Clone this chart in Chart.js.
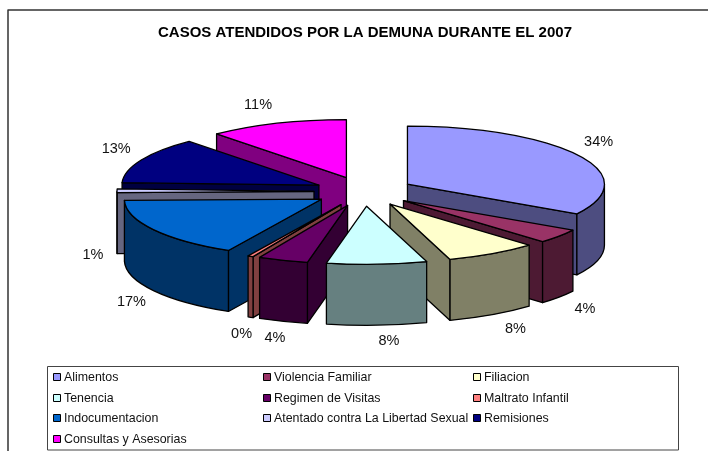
<!DOCTYPE html>
<html>
<head>
<meta charset="utf-8">
<script src="https://cdn.jsdelivr.net/npm/chart.js@4/dist/chart.umd.min.js"></script>
<style>
html,body{margin:0;padding:0;background:#fff;overflow:hidden}
#wrap{width:708px;height:451px;position:relative}
</style>
</head>
<body>
<div id="wrap"><canvas id="c" width="708" height="451"></canvas></div>
<script>
const categories = ["Alimentos","Violencia Familiar","Filiacion","Tenencia","Regimen de Visitas","Maltrato Infantil","Indocumentacion","Atentado contra La Libertad Sexual","Remisiones","Consultas y Asesorias"];
const values = [33.52, 4, 7.55, 8.2, 4.1, 0.45, 16.85, 1, 12.88, 11.45];
const topColors = ["#9999FF","#993366","#FFFFCC","#CCFFFF","#660066","#FF8080","#0066CC","#CCCCFF","#000080","#FF00FF"];
const sideColors = ["#4D4D80","#4D1A33","#808066","#668080","#330033","#804040","#003366","#666680","#000040","#800080"];
const chartTitle = "CASOS ATENDIDOS POR LA DEMUNA DURANTE EL 2007";

// Presentation constants
const RADIUS = 197, SQUASH = 0.295, DEPTH = 61, EXPLODE = 50, EDGE = 1.3, PIE_SHIFT_X = -1;
const paintOrder = [9, 0, 8, 7, 6, 1, 2, 5, 4, 3];
const labelNudge = [[20,-13],[26,12],[23,14],[12,16],[-8,17],[-9,17],[-22,11],[-24,64],[-25,-11],[-19,-18]];
const legendCols = [53, 263, 473], legendRows = [378, 399, 419, 440];
const FONT = '"Liberation Sans", Arial, sans-serif';

function geometry(arc){
  const p = arc.getProps(['x','y','startAngle','endAngle','outerRadius'], true);
  const mid = (p.startAngle + p.endAngle) / 2;
  const ox = p.x + PIE_SHIFT_X;
  const ax = ox + Math.cos(mid) * EXPLODE;
  const ay = p.y + Math.sin(mid) * EXPLODE * SQUASH;
  const pt = t => [ax + Math.cos(t) * p.outerRadius, ay + Math.sin(t) * p.outerRadius * SQUASH];
  return {p, mid, ox, ax, ay, pt};
}

const pie3d = {
  id: 'pie3d',
  beforeDatasetsDraw(chart){
    const ctx = chart.ctx, meta = chart.getDatasetMeta(0);
    const line = (fill) => {
      ctx.fillStyle = fill; ctx.fill();
      ctx.strokeStyle = '#000'; ctx.lineWidth = EDGE; ctx.lineJoin = 'round'; ctx.stroke();
    };
    paintOrder.forEach(i => {
      const arc = meta.data[i]; if (!arc) return;
      const g = geometry(arc), {p, ax, ay, pt} = g, side = sideColors[i];
      const wall = (t) => {
        const [x, y] = pt(t);
        ctx.beginPath(); ctx.moveTo(ax, ay); ctx.lineTo(x, y);
        ctx.lineTo(x, y + DEPTH); ctx.lineTo(ax, ay + DEPTH); ctx.closePath(); line(side);
      };
      // front-facing radial walls only
      if (Math.sin(p.startAngle - Math.PI/2) > 1e-6) wall(p.startAngle);
      if (Math.sin(p.endAngle + Math.PI/2) > 1e-6) wall(p.endAngle);
      // outer rim, only the arc portions on the front half
      for (const k of [0, 2]) {
        const from = Math.max(p.startAngle, k * Math.PI), to = Math.min(p.endAngle, k * Math.PI + Math.PI);
        if (to <= from) continue;
        ctx.beginPath();
        ctx.ellipse(ax, ay, p.outerRadius, p.outerRadius * SQUASH, 0, from, to);
        ctx.ellipse(ax, ay + DEPTH, p.outerRadius, p.outerRadius * SQUASH, 0, to, from, true);
        ctx.closePath(); line(side);
      }
      // top face: the library's own arc element, squashed
      ctx.save();
      ctx.translate(ax, ay); ctx.scale(1, SQUASH); ctx.translate(-p.x, -p.y);
      arc.draw(ctx);
      ctx.restore();
      // outline with an even pen
      ctx.beginPath();
      ctx.moveTo(ax, ay);
      ctx.ellipse(ax, ay, p.outerRadius, p.outerRadius * SQUASH, 0, p.startAngle, p.endAngle);
      ctx.closePath();
      ctx.strokeStyle = '#000'; ctx.lineWidth = EDGE; ctx.lineJoin = 'round'; ctx.stroke();
    });
    return false;
  },
  afterDraw(chart){
    const ctx = chart.ctx, meta = chart.getDatasetMeta(0);
    const total = values.reduce((a, b) => a + b, 0);
    ctx.save();
    // percentage labels
    ctx.font = '14.5px ' + FONT; ctx.fillStyle = '#111';
    ctx.textAlign = 'center'; ctx.textBaseline = 'middle';
    meta.data.forEach((arc, i) => {
      const {p, mid, ox} = geometry(arc);
      const r = p.outerRadius + EXPLODE;
      const x = ox + Math.cos(mid) * r + labelNudge[i][0];
      const y = p.y + Math.sin(mid) * r * SQUASH + (Math.sin(mid) > 0 ? DEPTH : 0) + labelNudge[i][1];
      ctx.fillText(Math.round(values[i] / total * 100) + '%', x, y);
    });
    // chart frame
    ctx.strokeStyle = '#333'; ctx.lineWidth = 1.5;
    ctx.beginPath(); ctx.moveTo(8, 451); ctx.lineTo(8, 10); ctx.lineTo(708, 10); ctx.stroke();
    // legend box
    ctx.strokeStyle = '#444'; ctx.lineWidth = 1;
    ctx.strokeRect(47.5, 366.5, 631, 83.5);
    ctx.font = '12.4px ' + FONT; ctx.textAlign = 'left'; ctx.fillStyle = '#111';
    categories.forEach((name, i) => {
      const cx = legendCols[i % 3], cy = legendRows[Math.floor(i / 3)];
      ctx.fillStyle = topColors[i]; ctx.fillRect(cx + .5, cy - 4.5, 7, 7);
      ctx.strokeStyle = '#000'; ctx.lineWidth = 1; ctx.strokeRect(cx + .5, cy - 4.5, 7, 7);
      ctx.fillStyle = '#111'; ctx.fillText(name, cx + 11, cy);
    });
    ctx.restore();
  }
};

new Chart(document.getElementById('c'), {
  type: 'pie',
  plugins: [pie3d],
  data: { labels: categories, datasets: [{ data: values, backgroundColor: topColors, borderWidth: 0 }] },
  options: {
    responsive: false, animation: false, radius: RADIUS,
    layout: { padding: { left: 22, right: 0, top: 0, bottom: 110 } },
    plugins: {
      legend: { display: false }, tooltip: { enabled: false },
      title: { display: true, text: chartTitle, color: '#000', font: { family: FONT, size: 15, weight: 'bold' }, padding: { top: 24, bottom: 0 } }
    }
  }
});
</script>
</body>
</html>
